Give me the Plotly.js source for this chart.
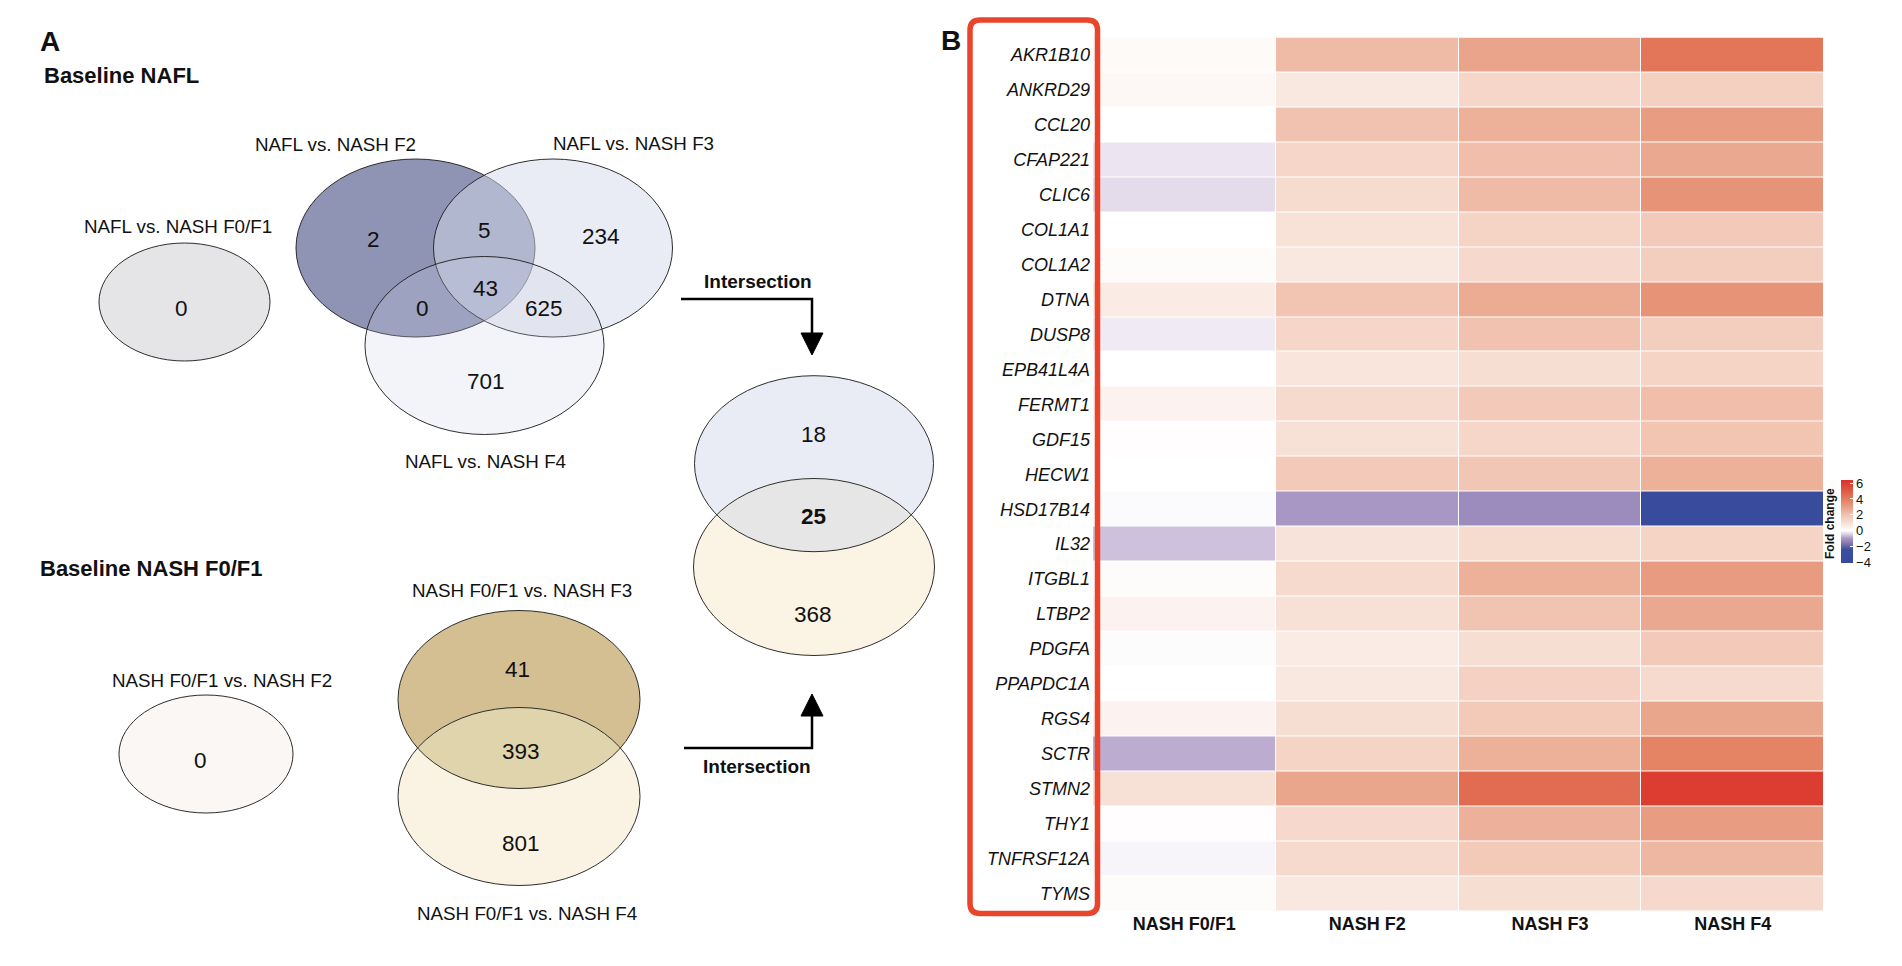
<!DOCTYPE html>
<html><head><meta charset="utf-8">
<script src="https://cdn.plot.ly/plotly-3.0.1.min.js"></script>
<style>html,body{margin:0;padding:0;background:#fff;}#chart{width:1902px;height:966px;}</style>
</head><body><div id="chart"></div>
<script>
// ---------------- DATA ----------------
const genes = ["AKR1B10","ANKRD29","CCL20","CFAP221","CLIC6","COL1A1","COL1A2","DTNA","DUSP8","EPB41L4A","FERMT1","GDF15","HECW1","HSD17B14","IL32","ITGBL1","LTBP2","PDGFA","PPAPDC1A","RGS4","SCTR","STMN2","THY1","TNFRSF12A","TYMS"];
const groups = ["NASH F0/F1","NASH F2","NASH F3","NASH F4"];
const fcF01 = [0.15,0.2,0,-0.25,-0.35,0,0.1,0.6,-0.2,0,0.35,0.05,0,-0.05,-0.6,0.1,0.35,-0.03,0,0.35,-0.8,0.95,0.05,-0.1,0.1];
const fcF2  = [2.2,0.7,2.0,1.3,1.1,0.9,0.7,1.9,1.3,0.8,1.15,0.95,1.7,-1.0,0.85,1.15,0.95,0.6,0.7,1.0,1.4,2.75,1.2,1.15,0.7];
const fcF3  = [2.8,1.3,2.5,2.1,2.2,1.4,1.2,2.6,2.0,1.0,1.7,1.3,1.85,-1.2,1.1,2.5,1.95,1.0,1.45,1.75,2.5,4.5,2.45,1.75,1.0];
const fcF4  = [4.2,1.5,3.0,2.7,3.3,1.7,1.6,3.3,1.6,1.4,2.1,1.9,2.5,-3.5,1.35,3.05,2.7,1.7,1.15,2.75,3.8,6.0,3.0,2.3,1.2];
const cbTicks = [-4,-2,0,2,4,6];

// Venn: baseline NAFL
const naflSetLabels = ["NAFL vs. NASH F0/F1","NAFL vs. NASH F2","NAFL vs. NASH F3","NAFL vs. NASH F4"];
const naflRegions = ["F0/F1","F2 only","F2∩F3","F3 only","F2∩F4","F2∩F3∩F4","F3∩F4","F4 only"];
const naflCounts  = [0, 2, 5, 234, 0, 43, 625, 701];
// Venn: baseline NASH F0/F1
const f01SetLabels = ["NASH F0/F1 vs. NASH F2","NASH F0/F1 vs. NASH F3","NASH F0/F1 vs. NASH F4"];
const f01Regions = ["F2","F3 only","F3∩F4","F4 only"];
const f01Counts  = [0, 41, 393, 801];
// Intersection of the two analyses
const interRegions = ["NAFL only","both","NASH F0/F1 only"];
const interCounts  = [18, 25, 368];
const panelTitles = ["Baseline NAFL","Baseline NASH F0/F1"];

// ---------------- LAYOUT HELPERS ----------------
const W = 1902, H = 966;
const fx = p => p / W, fy = p => 1 - p / H;
const FONT = "Liberation Sans, Arial, Helvetica, sans-serif";
const OUT = "rgba(35,35,35,0.95)";

function ell(cx, cy, rx, ry, fill, line) {
  return {type:"circle", xref:"paper", yref:"paper", layer:"above",
    x0:fx(cx-rx), x1:fx(cx+rx), y0:fy(cy+ry), y1:fy(cy-ry),
    fillcolor: fill, line: line ? {color:OUT, width:1} : {width:0}};
}
function pathOf(pts) {
  return pts.map((p,i)=>(i?"L":"M")+fx(p[0]).toFixed(6)+","+fy(p[1]).toFixed(6)).join(" ")+" Z";
}
// lens of two vertically-stacked ellipses with same cx, rx, ry
function lens(cx, cyTop, cyBot, rx, ry, fill) {
  const d = (cyBot - cyTop) / 2;
  const t0 = Math.asin(d / ry), n = 60, pts = [];
  for (let i = 0; i <= n; i++) { const t = t0 + (Math.PI - 2*t0) * i / n; pts.push([cx + rx*Math.cos(t), cyTop + ry*Math.sin(t)]); }
  for (let i = 0; i <= n; i++) { const t = Math.PI - t0 - (Math.PI - 2*t0) * i / n; pts.push([cx + rx*Math.cos(t), cyBot - ry*Math.sin(t)]); }
  return {type:"path", xref:"paper", yref:"paper", layer:"above", path: pathOf(pts), fillcolor: fill, line:{width:0}};
}
function txt(x, y, text, size, opts) {
  return Object.assign({xref:"paper", yref:"paper", x:fx(x), y:fy(y), text:text, showarrow:false,
    xanchor:"center", yanchor:"middle", font:{family:FONT, size:size, color:"#111"}}, opts||{});
}
function linePath(pts, w) {
  return {type:"path", xref:"paper", yref:"paper", layer:"above",
    path: pts.map((p,i)=>(i?"L":"M")+fx(p[0]).toFixed(6)+","+fy(p[1]).toFixed(6)).join(" "),
    line:{color:"#000", width:w}};
}
function tri(pts) {
  return {type:"path", xref:"paper", yref:"paper", layer:"above", path: pathOf(pts), fillcolor:"#000", line:{color:"#000", width:1}};
}

// ---------------- SHAPES ----------------
const shapes = [];
// baseline NAFL
shapes.push(ell(184.5, 302, 85.5, 59, "#e5e4e6", true));
shapes.push(ell(415.5, 248, 119.5, 89, "#8f94b5", true));
shapes.push(ell(553, 248, 119.5, 89, "rgba(211,217,233,0.5)", true));
shapes.push(ell(484.5, 345.5, 119.5, 89, "rgba(205,209,230,0.24)", true));
// baseline NASH F0/F1
shapes.push(ell(206, 754, 87, 59, "#faf7f4", true));
shapes.push(ell(519, 699.5, 121, 89, "#d3bf92", false));
shapes.push(ell(519, 796.5, 121, 89, "#faf3e3", false));
shapes.push(lens(519, 699.5, 796.5, 121, 89, "#e0d4ac"));
shapes.push(ell(519, 699.5, 121, 89, "rgba(0,0,0,0)", true));
shapes.push(ell(519, 796.5, 121, 89, "rgba(0,0,0,0)", true));
// intersection venn
shapes.push(ell(814, 463.7, 119.5, 88, "#e9ecf4", false));
shapes.push(ell(814, 567, 120.5, 88.5, "#fbf4e4", false));
shapes.push(lens(814, 463.7, 567, 119.5, 88, "#e6e6e6"));
shapes.push(ell(814, 463.7, 119.5, 88, "rgba(0,0,0,0)", true));
shapes.push(ell(814, 567, 120.5, 88.5, "rgba(0,0,0,0)", true));
// arrows
shapes.push(linePath([[681,299],[812,299],[812,334]], 2.5));
shapes.push(tri([[801,333],[823,333],[812,355]]));
shapes.push(linePath([[684,748],[812,748],[812,715]], 2.5));
shapes.push(tri([[801,716],[823,716],[812,694]]));
// red rounded box around gene names
(function(){
  const x0=970, x1=1097.5, y0=20, y1=913.5, r=10;
  const P=(x,y)=>fx(x).toFixed(6)+","+fy(y).toFixed(6);
  shapes.push({type:"path", xref:"paper", yref:"paper", layer:"above",
    path:"M"+P(x0+r,y0)+" L"+P(x1-r,y0)+" Q"+P(x1,y0)+" "+P(x1,y0+r)+" L"+P(x1,y1-r)+" Q"+P(x1,y1)+" "+P(x1-r,y1)+
         " L"+P(x0+r,y1)+" Q"+P(x0,y1)+" "+P(x0,y1-r)+" L"+P(x0,y0+r)+" Q"+P(x0,y0)+" "+P(x0+r,y0)+" Z",
    line:{color:"#e8452c", width:5.5}});
})();

// ---------------- ANNOTATIONS ----------------
const NUM = 22.5, LBL = 18.8;
const annotations = [
  txt(50, 42, "<b>A</b>", 28),
  txt(951, 41, "<b>B</b>", 28),
  txt(42, 75.5, "<b>"+panelTitles[0]+"</b>", 22, {xanchor:"left"}),
  txt(38, 568.5, "<b>"+panelTitles[1]+"</b>", 22, {xanchor:"left"}),
  txt(178, 227, naflSetLabels[0], LBL),
  txt(335, 145, naflSetLabels[1], LBL),
  txt(633, 143, naflSetLabels[2], LBL),
  txt(485, 461, naflSetLabels[3], LBL),
  txt(181, 308, String(naflCounts[0]), NUM),
  txt(373.5, 239, String(naflCounts[1]), NUM),
  txt(484, 231, String(naflCounts[2]), NUM),
  txt(601, 237, String(naflCounts[3]), NUM),
  txt(422.5, 308, String(naflCounts[4]), NUM),
  txt(485, 288, String(naflCounts[5]), NUM),
  txt(544, 308, String(naflCounts[6]), NUM),
  txt(485.5, 381, String(naflCounts[7]), NUM),
  txt(222, 680.5, f01SetLabels[0], LBL),
  txt(522, 590.5, f01SetLabels[1], LBL),
  txt(526.5, 913, f01SetLabels[2], LBL),
  txt(200, 760, String(f01Counts[0]), NUM),
  txt(517.5, 669, String(f01Counts[1]), NUM),
  txt(520.5, 751.5, String(f01Counts[2]), NUM),
  txt(520.5, 843, String(f01Counts[3]), NUM),
  txt(813, 434, String(interCounts[0]), NUM),
  txt(813, 516.5, "<b>"+interCounts[1]+"</b>", NUM),
  txt(813, 614.5, String(interCounts[2]), NUM),
  txt(757.5, 281.5, "<b>Intersection</b>", 19),
  txt(757, 766, "<b>Intersection</b>", 19),
  txt(1830, 524, "<b>Fold change</b>", 12, {textangle:-90})
];

// ---------------- HEATMAP ----------------
const z = genes.map((g,i)=>[fcF01[i], fcF2[i], fcF3[i], fcF4[i]]);
const zmin = -4.1, zmax = 6.4;
const stops = [[-4.1,"#364a9a"],[-2.4,"#3b4ea0"],[-1.6,"#8576b0"],[-1.0,"#a897c4"],[-0.5,"#d8cbe3"],[0,"#ffffff"],
               [1,"#f7ded3"],[2,"#f1c2af"],[3,"#e89d82"],[4,"#e47c5e"],[5,"#df5c44"],[6.4,"#d9302a"]];
const colorscale = stops.map(s=>[(s[0]-zmin)/(zmax-zmin), s[1]]);

const trace = {
  type:"heatmap", x: groups, y: genes, z: z, zmin: zmin, zmax: zmax,
  colorscale: colorscale, xgap: 1, ygap: 1, hoverinfo:"skip",
  colorbar: {x: fx(1841), xanchor:"left", y: fy(480), yanchor:"top", xref:"paper", yref:"paper",
    lenmode:"pixels", len: 83, thickness: 12, xpad:0, ypad:0, outlinewidth:0,
    tickmode:"array", tickvals: cbTicks, ticks:"inside", ticklen:3, tickcolor:"#ffffff",
    tickfont:{family:FONT, size:13, color:"#111"}, title:{text:""}}
};

const layout = {
  width: W, height: H, margin:{l:0,r:0,t:0,b:0},
  paper_bgcolor:"#fff", plot_bgcolor:"#fff", showlegend:false,
  font:{family:FONT, color:"#111"},
  xaxis:{domain:[fx(1093), fx(1824)], type:"category", showgrid:false, zeroline:false, showline:false,
    ticks:"", automargin:false, ticklabelstandoff:0,
    tickfont:{family:FONT, size:18, weight:"bold", color:"#111"}, fixedrange:true},
  yaxis:{domain:[fy(911), fy(37.5)], type:"category", autorange:"reversed", showgrid:false, zeroline:false, showline:false,
    ticks:"", automargin:false, ticklabelstandoff:2,
    tickfont:{family:FONT, size:18, style:"italic", color:"#111"}, fixedrange:true},
  shapes: shapes, annotations: annotations
};

Plotly.newPlot("chart", [trace], layout, {displayModeBar:false, staticPlot:true});
</script>
</body></html>
